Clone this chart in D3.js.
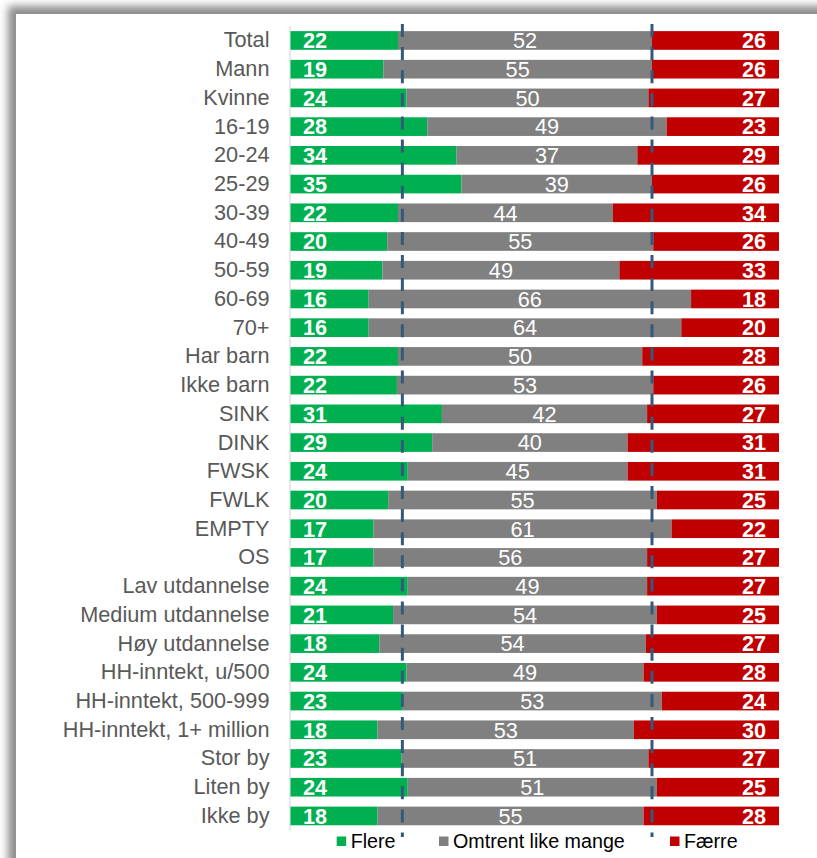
<!DOCTYPE html>
<html>
<head>
<meta charset="utf-8">
<script src="https://cdn.jsdelivr.net/npm/d3@7/dist/d3.min.js"></script>
<style>
  html, body { margin: 0; padding: 0; background: #fff; }
  svg { display: block; }
  text { font-family: "Liberation Sans", Arial, sans-serif; }
</style>
</head>
<body>
<svg id="chart" width="817" height="858"></svg>
<script>
const categories = ["Total","Mann","Kvinne","16-19","20-24","25-29","30-39","40-49","50-59","60-69","70+","Har barn","Ikke barn","SINK","DINK","FWSK","FWLK","EMPTY","OS","Lav utdannelse","Medium utdannelse","Høy utdannelse","HH-inntekt, u/500","HH-inntekt, 500-999","HH-inntekt, 1+ million","Stor by","Liten by","Ikke by"];
const flere   = [22,19,24,28,34,35,22,20,19,16,16,22,22,31,29,24,20,17,17,24,21,18,24,23,18,23,24,18];
const omtrent = [52,55,50,49,37,39,44,55,49,66,64,50,53,42,40,45,55,61,56,49,54,54,49,53,53,51,51,55];
const faerre  = [26,26,27,23,29,26,34,26,33,18,20,28,26,27,31,31,25,22,27,27,25,27,28,24,30,27,25,28];
const seriesNames = ["Flere","Omtrent like mange","Færre"];
const referenceLines = [22.9, 74.0]; // Total reference markers (percent)

const colors = {"Flere":"#00B050","Omtrent like mange":"#808080","Færre":"#C00000"};

const svg = d3.select("#chart");
const W = 817, H = 858;

// frame shadow
const defs = svg.append("defs");
const f = defs.append("filter").attr("id","blur").attr("x","-10%").attr("y","-10%").attr("width","120%").attr("height","120%");
f.append("feGaussianBlur").attr("stdDeviation", 4);
svg.append("rect").attr("x",8).attr("y",6).attr("width",1000).attr("height",1000)
  .attr("fill","#8c8c8c").attr("filter","url(#blur)");
svg.append("rect").attr("x",16).attr("y",14).attr("width",W).attr("height",H).attr("fill","#fff");

const rows = categories.map((c,i) => ({cat:c, "Flere":flere[i], "Omtrent like mange":omtrent[i], "Færre":faerre[i]}));
const stack = d3.stack().keys(seriesNames).offset(d3.stackOffsetExpand);
const stacked = stack(rows);

const x = d3.scaleLinear().domain([0,1]).range([290.5, 779]);
const y = d3.scaleBand().domain(categories).range([26.1, 830.3]).paddingInner(0.35).paddingOuter(0.175);

// category axis
const yAxis = d3.axisLeft(y).tickSize(0).tickPadding(20);
const ag = svg.append("g").attr("transform", `translate(${x(0)-1},0)`).call(yAxis);
ag.select(".domain").attr("stroke","#D9D9D9").attr("stroke-width",1.2);
ag.selectAll("text").attr("font-size","21.7px").attr("fill","#595959")
  .attr("font-family",'"Liberation Sans", Arial, sans-serif');

// bars
const g = svg.append("g");
stacked.forEach(s => {
  const key = s.key;
  const sg = g.append("g");
  sg.selectAll("rect").data(s).join("rect")
    .attr("x", d => x(d[0]))
    .attr("y", d => y(d.data.cat))
    .attr("width", d => x(d[1]) - x(d[0]))
    .attr("height", y.bandwidth())
    .attr("fill", colors[key]);
  sg.selectAll("text").data(s).join("text")
    .attr("x", d => key === "Flere" ? x(d[0]) + 12.5 : key === "Færre" ? x(d[1]) - 13 : (x(d[0]) + x(d[1]))/2)
    .attr("y", d => y(d.data.cat) + y.bandwidth()/2)
    .attr("dy","0.36em")
    .attr("text-anchor", key === "Flere" ? "start" : key === "Færre" ? "end" : "middle")
    .attr("font-size","21.7px")
    .attr("font-weight", key === "Omtrent like mange" ? "normal" : "bold")
    .attr("fill","#fff")
    .text(d => d.data[key]);
});

// dashed reference lines
svg.append("g").selectAll("line").data(referenceLines).join("line")
  .attr("x1", d => x(d/100)).attr("x2", d => x(d/100))
  .attr("y1", 24).attr("y2", 837)
  .attr("stroke","#35597A").attr("stroke-width",3)
  .attr("stroke-dasharray","13,10.1");

// legend
const legendX = [336.7, 439, 670];
const lg = svg.append("g");
seriesNames.forEach((n,i) => {
  lg.append("rect").attr("x", legendX[i]).attr("y", 836.5).attr("width", 9.5).attr("height", 9.5).attr("fill", colors[n]);
  lg.append("text").attr("x", legendX[i] + 14).attr("y", 841.3).attr("dy","0.36em")
    .attr("font-size","19.7px").attr("fill","#000").text(n);
});
</script>
</body>
</html>
